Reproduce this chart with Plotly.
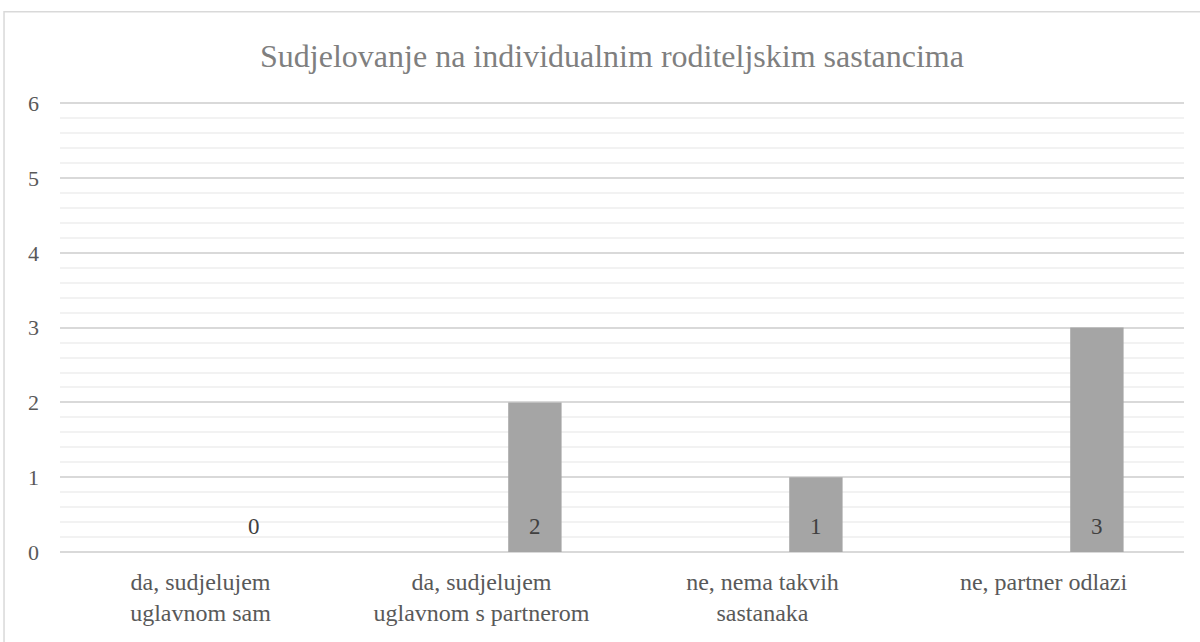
import plotly.graph_objects as go

# Data
categories = [
    "da, sudjelujem<br>uglavnom sam",
    "da, sudjelujem<br>uglavnom s partnerom",
    "ne, nema takvih<br>sastanaka",
    "ne, partner odlazi",
]
values = [0, 2, 1, 3]
title_text = "Sudjelovanje na individualnim roditeljskim sastancima"

font_family = "Times New Roman, Tinos, Liberation Serif, DejaVu Serif, serif"
plot_left, plot_right, plot_top, plot_bottom = 60, 16, 101, 90

fig = go.Figure()

fig.add_trace(go.Bar(
    x=categories,
    y=values,
    width=0.19,
    offset=0.095,  # bars sit right of the category centre
    marker=dict(color="#a5a5a5", line=dict(width=0)),
    hoverinfo="x+y",
))

# Data labels near the bar base (also shown for the zero value)
for cat, val in zip(categories, values):
    fig.add_annotation(
        x=cat, y=0, xref="x", yref="y",
        text=str(val), showarrow=False,
        xshift=53, yshift=11, yanchor="bottom",
        font=dict(family=font_family, size=23, color="#404040"),
    )

# Outer chart frame (only top/left visible in the window)
fig.add_shape(
    type="rect", xref="paper", yref="paper",
    x0=-0.0498, x1=1.05, y0=-0.5, y1=1.198,
    line=dict(color="#d9d9d9", width=1.5),
    layer="below",
)

fig.update_layout(
    width=1200, height=642,
    margin=dict(l=plot_left, r=plot_right, t=plot_top, b=plot_bottom),
    paper_bgcolor="white",
    plot_bgcolor="white",
    showlegend=False,
    font=dict(family=font_family),
    title=dict(
        text=title_text,
        x=612 / 1200, xanchor="center",
        y=1 - 56 / 642, yanchor="middle",
        font=dict(family=font_family, size=32, color="#7f7f7f"),
    ),
    xaxis=dict(
        type="category",
        range=[-0.5, 3.5],
        showgrid=False,
        showline=False,
        ticks="",
        ticklabelstandoff=13,
        tickfont=dict(family=font_family, size=24, color="#595959"),
    ),
    yaxis=dict(
        range=[0, 6.03],
        tickvals=[0, 1, 2, 3, 4, 5, 6],
        showgrid=True,
        gridcolor="#d9d9d9",
        gridwidth=1.5,
        zeroline=True,
        zerolinecolor="#d9d9d9",
        zerolinewidth=1.5,
        ticks="",
        ticklabelstandoff=20,
        tickfont=dict(family=font_family, size=22, color="#595959"),
        minor=dict(dtick=0.2, showgrid=True, gridcolor="#f2f2f2", gridwidth=1.5),
    ),
)

fig.write_html("out.html", config={"displayModeBar": False},
               post_script="document.body.style.margin='0';")
